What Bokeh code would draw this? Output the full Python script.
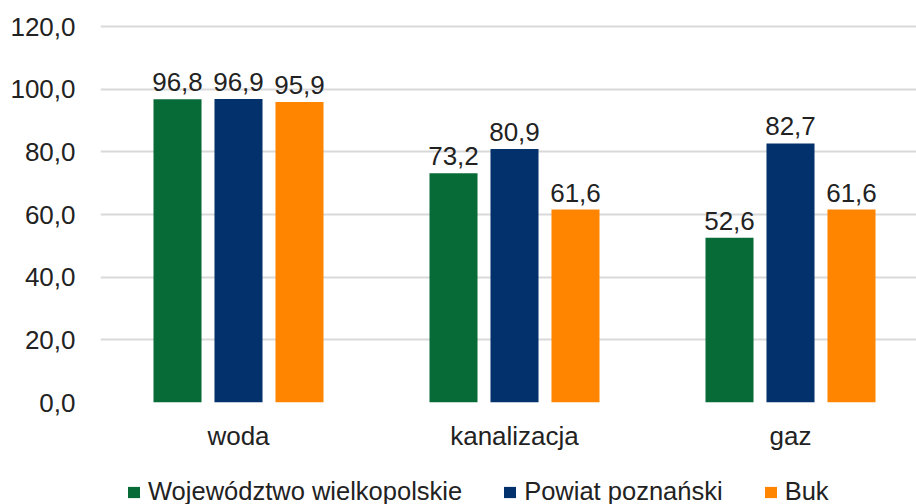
from bokeh.plotting import figure
from bokeh.models import ColumnDataSource, FixedTicker, Range1d, Legend, LegendItem
from bokeh.layouts import column
from bokeh.core.properties import value
from bokeh.embed import file_html
from bokeh.resources import INLINE

categories = ["woda", "kanalizacja", "gaz"]
series_names = ["Województwo wielkopolskie", "Powiat poznański", "Buk"]
wielkopolskie = [96.8, 73.2, 52.6]
poznanski = [96.9, 80.9, 82.7]
buk = [95.9, 61.6, 61.6]
y_ticks = [0, 20, 40, 60, 80, 100, 120]
y_tick_labels = ["0,0", "20,0", "40,0", "60,0", "80,0", "100,0", "120,0"]
colors = ["#076B38", "#03316B", "#FF8400"]

FONT = "Liberation Sans"
TXT = "#222222"
FS = "26px"

p = figure(width=916, height=470, output_backend="svg", toolbar_location=None,
           x_range=Range1d(0, 816 / 276), y_range=Range1d(0, 121),
           min_border_left=100, min_border_right=0, min_border_top=23, min_border_bottom=68)
p.outline_line_color = None
p.background_fill_color = "white"
p.border_fill_color = "white"

bar_w = 0.174
offsets = [-0.221, 0.0, 0.221]
all_series = [wielkopolskie, poznanski, buk]
for vals, name, col, off in zip(all_series, series_names, colors, offsets):
    xs = [i + 0.5 + off for i in range(len(categories))]
    src = ColumnDataSource(dict(x=xs, top=vals, lab=[f"{v:.1f}".replace(".", ",") for v in vals]))
    p.vbar(x="x", top="top", width=bar_w, bottom=0, source=src, fill_color=col, line_color=None)
    p.text(x="x", y="top", text="lab", source=src, text_align="center", text_baseline="alphabetic",
           y_offset=-17, text_font=value(FONT), text_font_size=FS, text_color=TXT)

# axes
p.xaxis.ticker = FixedTicker(ticks=[i + 0.5 for i in range(len(categories))])
p.xaxis.major_label_overrides = {i + 0.5: c for i, c in enumerate(categories)}
p.xaxis.axis_line_color = None
p.xaxis.major_tick_line_color = None
p.xaxis.minor_tick_line_color = None
p.xaxis.major_label_standoff = 12
p.xaxis.major_label_text_font = FONT
p.xaxis.major_label_text_font_size = FS
p.xaxis.major_label_text_color = TXT

p.yaxis.ticker = FixedTicker(ticks=y_ticks)
p.yaxis.major_label_overrides = {t: l for t, l in zip(y_ticks, y_tick_labels)}
p.yaxis.axis_line_color = None
p.yaxis.major_tick_line_color = None
p.yaxis.minor_tick_line_color = None
p.yaxis.major_label_standoff = 19
p.yaxis.major_label_text_font = FONT
p.yaxis.major_label_text_font_size = FS
p.yaxis.major_label_text_color = TXT

p.xgrid.grid_line_color = None
p.ygrid.grid_line_color = "#D9D9D9"
p.ygrid.grid_line_width = 2
p.ygrid.ticker = FixedTicker(ticks=y_ticks)

# legend strip
lg = figure(width=916, height=34, output_backend="svg", toolbar_location=None,
            x_range=Range1d(0, 1), y_range=Range1d(0, 1),
            min_border_left=0, min_border_right=0, min_border_top=0, min_border_bottom=0)
lg.outline_line_color = None
lg.axis.visible = False
lg.grid.visible = False
items = []
for name, col in zip(series_names, colors):
    r = lg.vbar(x=[-5], top=[-5], width=0.1, fill_color=col, line_color=None)
    items.append(LegendItem(label=name, renderers=[r]))
legend = Legend(items=items, orientation="horizontal", location=(26, -2),
                glyph_width=15, glyph_height=14, label_standoff=7, spacing=40,
                label_height=26, padding=0, margin=0, border_line_color=None,
                background_fill_alpha=0,
                label_text_font=FONT, label_text_font_size="25.5px", label_text_color=TXT)
lg.add_layout(legend, "center")

layout = column(p, lg, spacing=0)
open("out.html", "w").write(file_html(layout, INLINE))
